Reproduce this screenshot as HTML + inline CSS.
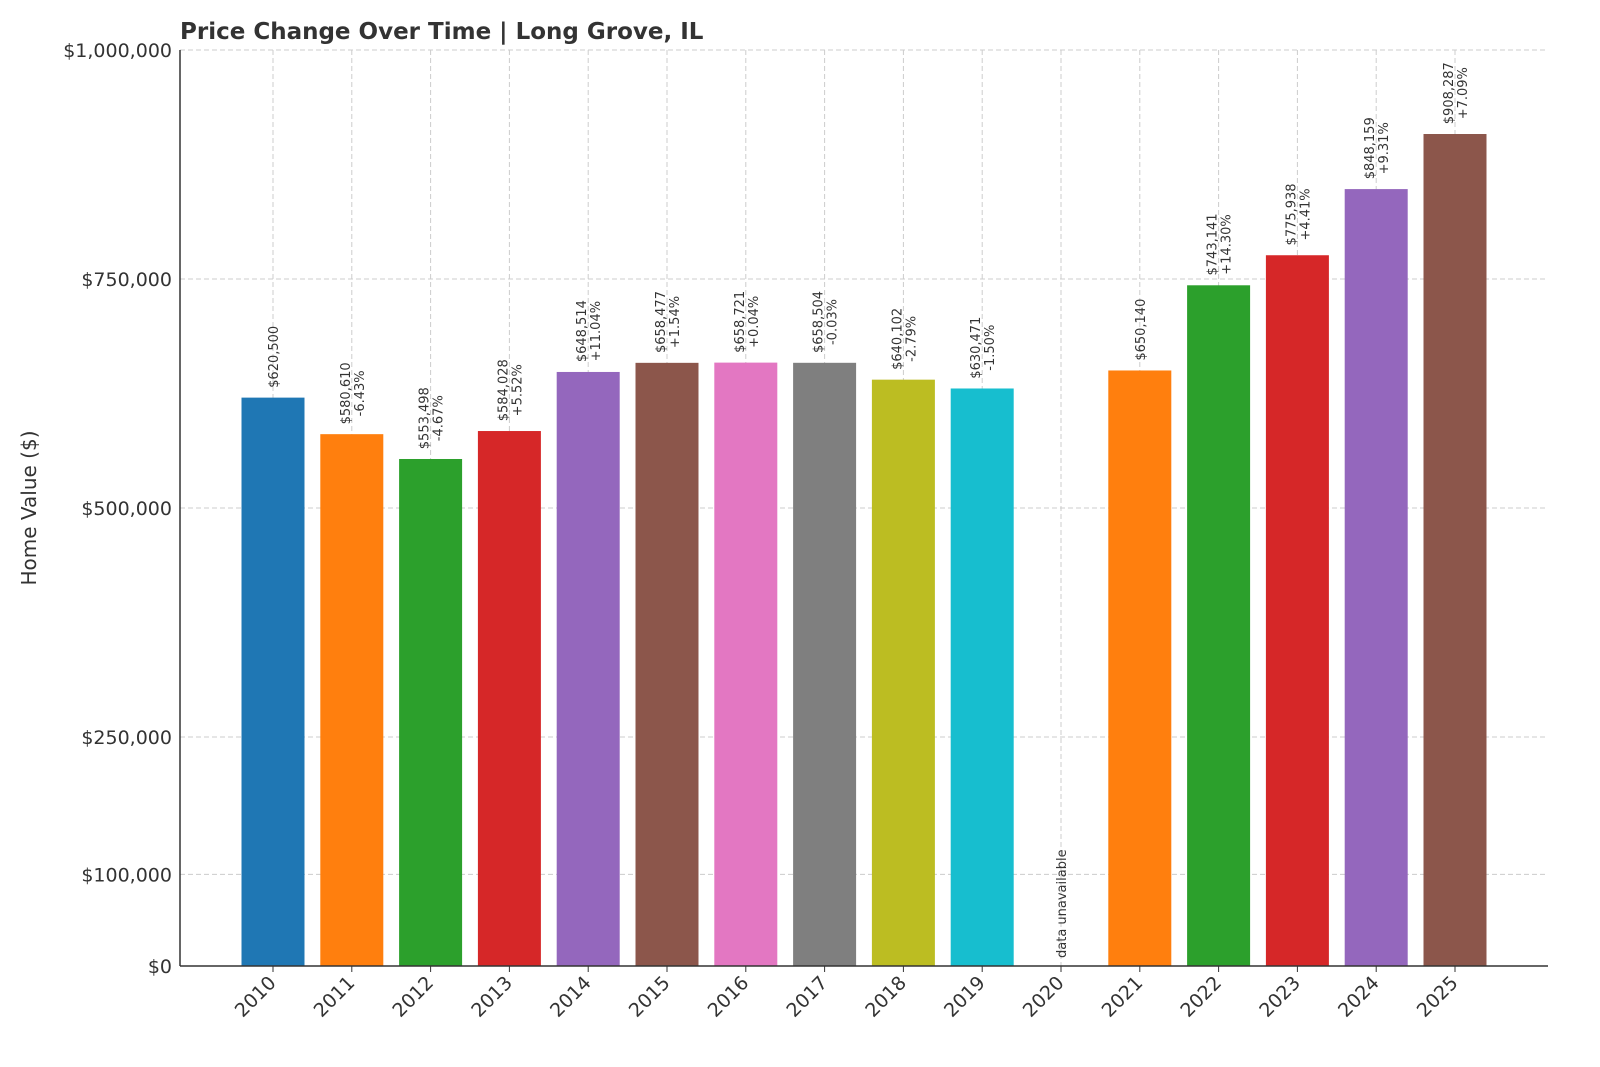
<!DOCTYPE html>
<html><head><meta charset="utf-8"><style>
body{margin:0;background:#fff;}
svg{display:block;font-family:"DejaVu Sans","Liberation Sans",sans-serif;}
</style></head><body>
<svg id="chart" width="1600" height="1067" viewBox="0 0 1600 1067" xmlns="http://www.w3.org/2000/svg">
<rect width="1600" height="1067" fill="#fff"/>
<text x="180" y="39" font-size="23" font-weight="bold" fill="#333">Price Change Over Time | Long Grove, IL</text>
<text transform="translate(36,508) rotate(-90)" text-anchor="middle" font-size="20" fill="#333">Home Value ($)</text>
<g id="grid"></g><g id="bars"></g><g id="labels"></g><g id="axes"></g>
</svg>
<script>
const years=["2010","2011","2012","2013","2014","2015","2016","2017","2018","2019","2020","2021","2022","2023","2024","2025"];
const values=[620500,580610,553498,584028,648514,658477,658721,658504,640102,630471,null,650140,743141,775938,848159,908287];
const pctLabels=["","-6.43%","-4.67%","+5.52%","+11.04%","+1.54%","+0.04%","-0.03%","-2.79%","-1.50%","","","+14.30%","+4.41%","+9.31%","+7.09%"];
const yTicks=[0,100000,250000,500000,750000,1000000];
const yTickLabels=["$0","$100,000","$250,000","$500,000","$750,000","$1,000,000"];
const colors=["#1f77b4","#ff7f0e","#2ca02c","#d62728","#9467bd","#8c564b","#e377c2","#7f7f7f","#bcbd22","#17becf"];
const NS="http://www.w3.org/2000/svg";
const L=180,R=1548,T=50,B=966;
const y=v=>B-(v/1000000)*(B-T);
const x=i=>273+i*78.8;
const bw=63;
function mk(tag,attrs,parent){const e=document.createElementNS(NS,tag);for(const k in attrs)e.setAttribute(k,attrs[k]);parent.appendChild(e);return e;}
const grid=document.getElementById('grid'),bars=document.getElementById('bars'),labels=document.getElementById('labels'),axes=document.getElementById('axes');
yTicks.forEach((t,i)=>{
  const g=mk('line',{x1:L,x2:R,y1:y(t),y2:y(t),stroke:"#ccc","stroke-dasharray":"5,3","stroke-width":1},grid);
  
  
  const tl=mk('text',{x:L-8,y:y(t)+7,"text-anchor":"end","font-size":19,fill:"#333"},axes);
  tl.textContent=yTickLabels[i];
  
  
});
years.forEach((yr,i)=>{
  const cx=x(i);
  const v=values[i];
  if(v!==null){
    const b=mk('rect',{x:cx-bw/2,y:y(v),width:bw,height:B-y(v),fill:colors[i%10]},bars);
    
    
    const l1="$"+v.toLocaleString('en-US');
    const l2=pctLabels[i];
    const len=Math.max(l1.length,l2.length)*8.2;
    const mid=y(v)-8-len/2;
    const off=l2?7:0;
    const t1=mk('text',{transform:`translate(${cx-off+5},${mid}) rotate(-90)`,"text-anchor":"middle","font-size":13,fill:"#333"},labels);
    t1.textContent=l1;
    
    
    if(l2){
      const t2=mk('text',{transform:`translate(${cx+off+5},${mid}) rotate(-90)`,"text-anchor":"middle","font-size":13,fill:"#333"},labels);
      t2.textContent=l2;
      
      
    }
  } else {
    const t=mk('text',{transform:`translate(${cx+5},${B-8}) rotate(-90)`,"font-size":13,fill:"#333"},labels);
    t.textContent="data unavailable";
    
    
  }
  const g=mk('line',{x1:cx,x2:cx,y1:T,y2:B,stroke:"#ccc","stroke-dasharray":"5,3","stroke-width":1},grid);
  
  
  const tk=mk('line',{x1:cx,x2:cx,y1:B,y2:B+6,stroke:"#333"},axes);
  
  
  const xl=mk('text',{transform:`translate(${cx+4},${B+18}) rotate(-45)`,"text-anchor":"end","font-size":19,fill:"#333"},axes);
  xl.textContent=yr;
  
  
});
const ax=mk('line',{x1:L,x2:L,y1:T,y2:B,stroke:"#333","stroke-width":1.5},axes);


const bx=mk('line',{x1:L,x2:R,y1:B,y2:B,stroke:"#333","stroke-width":1.5},axes);


</script>
</body></html>
